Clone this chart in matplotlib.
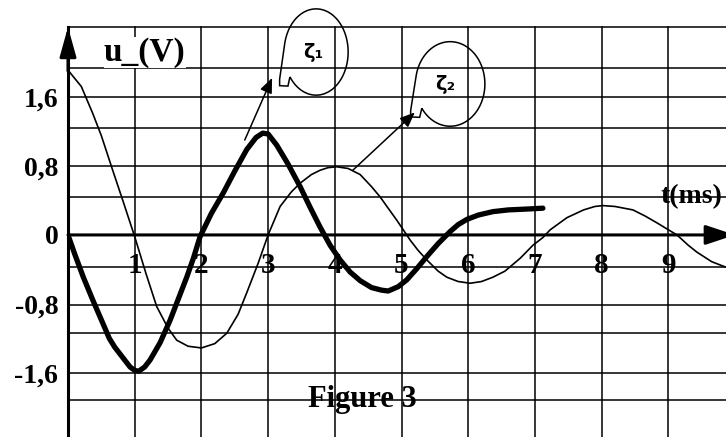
import numpy as np
import matplotlib
matplotlib.use('Agg')
import matplotlib.pyplot as plt
from matplotlib.path import Path
from matplotlib.patches import PathPatch

# curve zeta2 (thin)
t_thin = [0, 0.2, 0.37, 0.5, 0.67, 0.83, 1.0, 1.17, 1.33, 1.5, 1.63, 1.8, 2.0, 2.2, 2.38, 2.55,
          2.68, 2.85, 3.0, 3.18, 3.35, 3.48, 3.65, 3.78, 3.9, 4.03, 4.2, 4.38, 4.55, 4.68, 4.8,
          4.93, 5.13, 5.25, 5.38, 5.55, 5.68, 5.85, 6.03, 6.2, 6.37, 6.55, 6.78, 6.97, 7.12,
          7.23, 7.48, 7.73, 7.9, 8.02, 8.2, 8.47, 8.65, 8.83, 9.0, 9.13, 9.3, 9.43, 9.65, 9.85]
u_thin = [1.91, 1.72, 1.41, 1.15, 0.75, 0.38, -0.02, -0.45, -0.83, -1.08, -1.22, -1.29, -1.31,
          -1.26, -1.14, -0.92, -0.67, -0.33, 0.0, 0.33, 0.50, 0.60, 0.70, 0.75, 0.78, 0.79, 0.77,
          0.70, 0.56, 0.44, 0.31, 0.17, -0.06, -0.18, -0.29, -0.42, -0.49, -0.54, -0.56, -0.54,
          -0.49, -0.42, -0.27, -0.12, -0.03, 0.06, 0.20, 0.29, 0.33, 0.34, 0.33, 0.29, 0.22, 0.14,
          0.06, 0.0, -0.12, -0.20, -0.31, -0.37]

# curve zeta1 (thick)
t_thick = [0, 0.1, 0.23, 0.38, 0.52, 0.62, 0.70, 0.8, 0.93, 1.0, 1.06, 1.15, 1.23, 1.38, 1.53,
           1.65, 1.78, 1.88, 1.98, 2.15, 2.33, 2.5, 2.68, 2.82, 2.92, 3.0, 3.13, 3.3, 3.48, 3.63,
           3.78, 3.93, 4.08, 4.23, 4.38, 4.55, 4.7, 4.8, 4.95, 5.08, 5.23, 5.38, 5.55, 5.73, 5.85,
           5.98, 6.15, 6.37, 6.6, 6.88, 7.12]
u_thick = [0, -0.22, -0.49, -0.77, -1.02, -1.2, -1.30, -1.40, -1.53, -1.57, -1.58, -1.53, -1.45,
           -1.25, -0.99, -0.75, -0.49, -0.27, -0.02, 0.25, 0.49, 0.74, 0.99, 1.13, 1.18, 1.17,
           1.04, 0.82, 0.56, 0.32, 0.09, -0.12, -0.29, -0.43, -0.53, -0.61, -0.64, -0.65, -0.60,
           -0.52, -0.39, -0.25, -0.10, 0.04, 0.12, 0.18, 0.23, 0.27, 0.29, 0.30, 0.31]

x_grid = [1, 2, 3, 4, 5, 6, 7, 8, 9]
y_grid = [2.41, 1.94, 1.60, 1.24, 0.80, 0.44, -0.37, -0.81, -1.14, -1.60, -1.91]
y_ticks = [1.6, 0.8, 0, -0.8, -1.6]
y_labels = ['1,6', '0,8', '0', '-0,8', '-1,6']
x_labels = ['1', '2', '3', '4', '5', '6', '7', '8', '9']

serif = dict(family='Liberation Serif', weight='bold')

fig = plt.figure(figsize=(7.26, 4.37), dpi=100)
ax = fig.add_axes([68 / 726, 0, 658 / 726, 410 / 437])
ax.set_xlim(0, 9.865)
ax.set_ylim(-2.342, 2.41)
for s in ['top', 'right', 'bottom']:
    ax.spines[s].set_visible(False)
ax.spines['left'].set_linewidth(2.2)
ax.set_xticks([])
ax.set_yticks(y_ticks, labels=y_labels, fontsize=20, **serif)
ax.tick_params(axis='y', length=0, pad=7)

# grid
for x in x_grid:
    ax.axvline(x, color='black', lw=1.1, zorder=2, clip_on=False)
for y in y_grid:
    ax.axhline(y, color='black', lw=1.1, zorder=2, clip_on=False)

# axes with arrows
ax.annotate('', xy=(0, 2.41), xytext=(0, 1.9), zorder=4, annotation_clip=False,
            arrowprops=dict(arrowstyle='-|>,head_length=0.9,head_width=0.25',
                            mutation_scale=20, lw=2.2, color='black', shrinkA=0, shrinkB=0))
ax.annotate('', xy=(10.0, 0), xytext=(0, 0), zorder=4, annotation_clip=False,
            arrowprops=dict(arrowstyle='-|>,head_length=0.9,head_width=0.3',
                            mutation_scale=20, lw=2.2, color='black', shrinkA=0, shrinkB=0))

# curves
ax.plot(t_thin, u_thin, color='black', lw=1.2, zorder=3)
ax.plot(t_thick, u_thick, color='black', lw=3.8, zorder=3, solid_capstyle='round',
        solid_joinstyle='round')

# labels
for x, lab in zip(x_grid, x_labels):
    ax.text(x, -0.36, lab, ha='center', va='center', fontsize=21, zorder=1, **serif)
ax.text(1.15, 2.11, 'u_(V)', ha='center', va='center', fontsize=24, zorder=2.5,
        bbox=dict(facecolor='white', edgecolor='none', pad=0), **serif)
ax.text(9.35, 0.44, 't(ms)', ha='center', va='center', fontsize=20, zorder=1, **serif)
ax.text(4.41, -2.0, 'Figure 3', ha='center', va='baseline', fontsize=22, zorder=1, **serif)


def bubble(cx, cy, a, b):
    th = np.radians(np.linspace(215, 530, 120))
    pts = list(zip(cx + a * np.cos(th), cy + b * np.sin(th)))
    tail = [(-1.14, -0.63), (-1.14, -0.78), (-0.88, -0.79), (-0.82, -0.58)]
    pts += [(cx + a * dx, cy + b * dy) for dx, dy in tail]
    p = PathPatch(Path(pts), facecolor='none', edgecolor='black', lw=1.1,
                  zorder=5, clip_on=False)
    ax.add_patch(p)


bubble(3.72, 2.12, 0.48, 0.50)
bubble(5.73, 1.75, 0.52, 0.49)
ax.text(3.67, 2.12, 'ζ₁', ha='center', va='center', fontsize=14, weight='bold',
        family=['DejaVu Sans'], zorder=6, clip_on=False)
ax.text(5.65, 1.74, 'ζ₂', ha='center', va='center', fontsize=14, weight='bold',
        family=['DejaVu Sans'], zorder=6)

arrow = dict(arrowstyle='-|>,head_length=0.6,head_width=0.25', mutation_scale=15,
             lw=1.1, color='black', shrinkA=0, shrinkB=0)
ax.annotate('', xy=(3.06, 1.82), xytext=(2.65, 1.10), arrowprops=arrow, zorder=5)
ax.annotate('', xy=(5.2, 1.42), xytext=(4.27, 0.75), arrowprops=arrow, zorder=5)

fig.savefig('out.png', dpi=100)
